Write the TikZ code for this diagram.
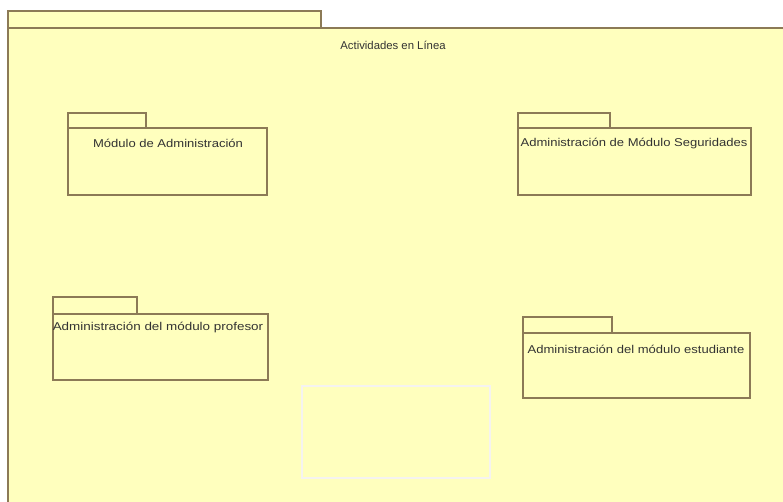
\documentclass[tikz,border=0pt]{standalone}
\usepackage{fontspec}
\setmainfont{Liberation Sans}
\begin{document}
\begin{tikzpicture}[x=0.75pt,y=-0.75pt,
  pkgfill/.style={fill=pkgyellow},
  pkgline/.style={draw=pkgbrown,line width=1.3pt,pkgfill},
  pkglabel/.style={anchor=center,inner sep=0pt,text=black!80,xscale=1.15,font=\fontsize{8.5pt}{9pt}\selectfont}]
\definecolor{pkgyellow}{RGB}{255,255,190}
\definecolor{pkgbrown}{RGB}{140,122,86}
\useasboundingbox (0,0) rectangle (783,502);
\fill[white] (0,0) rectangle (783,502);
% outer package: Actividades en Linea
\draw[pkgline] (8,11) rectangle (321,28);
\draw[pkgline] (8,28) -- (790,28);
\draw[pkgline] (8,28) -- (8,510);
\fill[pkgfill] (9,29) rectangle (783,502);
\node[pkglabel,xscale=0.87] (outer) at (393,45) {Actividades en Línea};
% ghost outline near the bottom
\draw[pkgbrown!9,line width=1pt] (302,386) rectangle (490,478);
% inner packages
\draw[pkgline] (68,113) rectangle (146,128);
\draw[pkgline] (68,128) rectangle (267,195);
\node[pkglabel] (adm) at (168,143) {Módulo de Administración};
\draw[pkgline] (518,113) rectangle (610,128);
\draw[pkgline] (518,128) rectangle (751,195);
\node[pkglabel] (seg) at (634,144) {Administración de Módulo Seguridades};
\draw[pkgline] (53,297) rectangle (137,314);
\draw[pkgline] (53,314) rectangle (268,380);
\node[pkglabel,xscale=1.03] (prof) at (158,328) {Administración del módulo profesor};
\draw[pkgline] (523,317) rectangle (612,333);
\draw[pkgline] (523,333) rectangle (750,398);
\node[pkglabel] (est) at (636,349) {Administración del módulo estudiante};
\end{tikzpicture}
\end{document}
